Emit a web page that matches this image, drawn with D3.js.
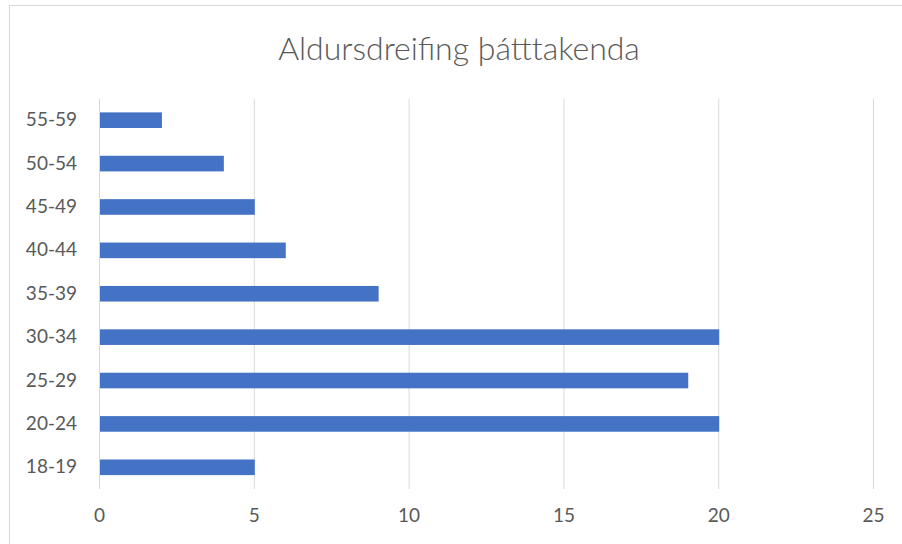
<!DOCTYPE html>
<html>
<head>
<meta charset="utf-8">
<script src="https://cdn.jsdelivr.net/npm/d3@7"></script>
<style>
  html, body { margin: 0; padding: 0; background: #fff; }
  svg { display: block; }
</style>
</head>
<body>
<svg id="chart" width="902" height="544"></svg>
<script>
// age groups, bottom to top as in the picture
const categories = ['18-19', '20-24', '25-29', '30-34', '35-39', '40-44', '45-49', '50-54', '55-59'];
const counts = [5, 20, 19, 20, 9, 6, 5, 4, 2];
const xTicks = [0, 5, 10, 15, 20, 25];
const title = 'Aldursdreifing þátttakenda';

const svg = d3.select('#chart');
const font = 'Lato, "Open Sans", sans-serif';
const textColor = '#595959';

// chart frame
svg.append('rect').attr('x', 9.5).attr('y', 5.5).attr('width', 902).attr('height', 560)
  .attr('fill', 'none').attr('stroke', '#d9d9d9').attr('stroke-width', 1);

const plot = { left: 99, right: 873, top: 98.5, bottom: 489 };

const x = d3.scaleLinear().domain([0, 25]).range([plot.left, plot.right]);
const y = d3.scaleBand().domain(categories.slice().reverse()).range([plot.top, plot.bottom]).paddingInner(0.64).paddingOuter(0.32);

// vertical grid
svg.append('g').selectAll('line').data(xTicks).join('line')
  .attr('x1', d => x(d) + 0.5).attr('x2', d => x(d) + 0.5)
  .attr('y1', plot.top).attr('y2', plot.bottom)
  .attr('stroke', '#d9d9d9').attr('stroke-width', 1);

// bars
svg.append('g').selectAll('rect').data(categories).join('rect')
  .attr('x', x(0) + 1)
  .attr('y', d => y(d))
  .attr('width', (d, i) => x(counts[i]) - x(0))
  .attr('height', y.bandwidth())
  .attr('fill', '#4472c4');

// x axis labels
const xAxis = svg.append('g').attr('transform', `translate(0,${plot.bottom})`)
  .call(d3.axisBottom(x).tickValues(xTicks).tickSize(0).tickPadding(20));
xAxis.select('.domain').remove();
xAxis.selectAll('text').attr('fill', textColor).style('font-family', font).style('font-size', '19px');

// y axis labels
const yAxis = svg.append('g').attr('transform', `translate(${plot.left},0)`)
  .call(d3.axisLeft(y).tickSize(0).tickPadding(22));
yAxis.select('.domain').remove();
yAxis.selectAll('text').attr('fill', textColor).style('font-family', font).style('font-size', '19px');

// title (light weight, like the original)
svg.append('text').attr('x', 459).attr('y', 60).attr('text-anchor', 'middle')
  .attr('fill', textColor).style('font-family', font).style('font-size', '32px').style('font-weight', 300)
  .text(title);
</script>
</body>
</html>
